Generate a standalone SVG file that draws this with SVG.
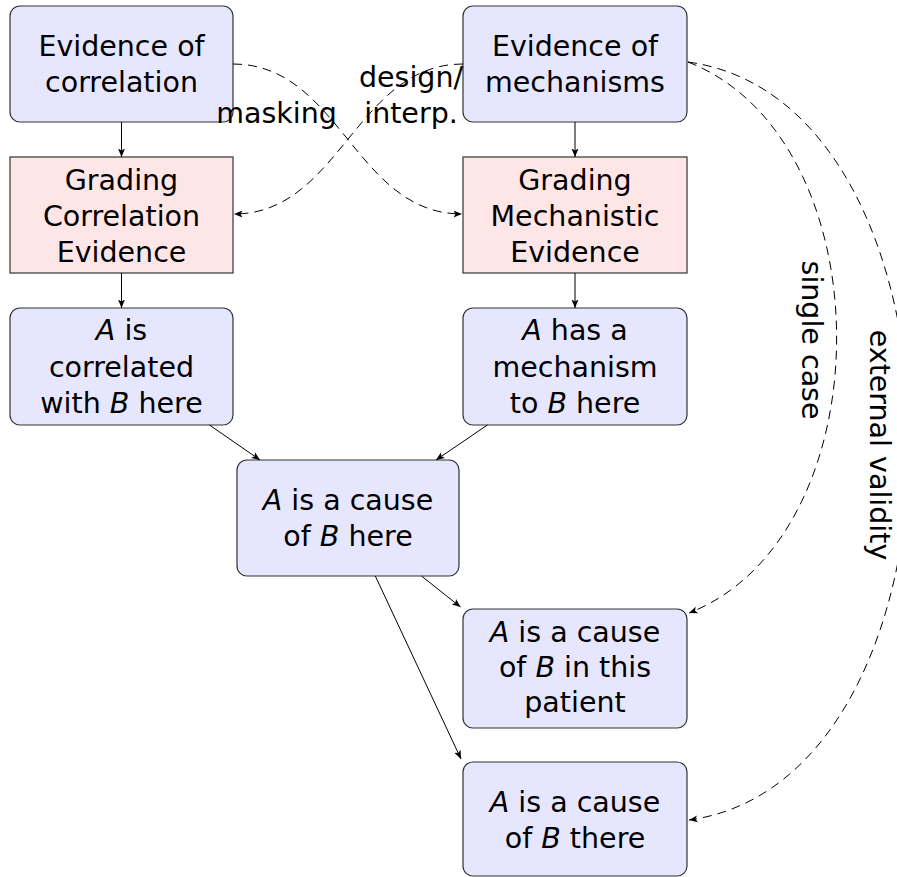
<svg xmlns="http://www.w3.org/2000/svg" width="897" height="877" viewBox="0 0 897 877">
<style>
  .b { fill: #e6e6ff; stroke: #333; stroke-width: 1.2; }
  .r { fill: #ffe6e6; stroke: #333; stroke-width: 1.2; }
  text { font-family: "DejaVu Sans", "Noto Sans", sans-serif; font-size: 28.5px; fill: #000; text-anchor: middle; }
  .i { font-style: italic; }
  .s { fill: none; stroke: #000; stroke-width: 1; marker-end: url(#ah); }
  .d { fill: none; stroke: #000; stroke-width: 1; stroke-dasharray: 9 6; marker-end: url(#ah); }
</style>
<defs>
  <marker id="ah" markerWidth="10" markerHeight="8" refX="8.5" refY="4" orient="auto" markerUnits="userSpaceOnUse">
    <path d="M0,0.5 L8.5,4 L0,7.5 L2,4 Z" fill="#000"/>
  </marker>
</defs>
<rect width="897" height="877" fill="#fff"/>

<g id="ev-corr">
  <rect class="b" x="10" y="6" width="223" height="116" rx="10"/>
  <text x="121.5" y="56">Evidence of</text>
  <text x="121.5" y="92">correlation</text>
</g>
<g id="grad-corr">
  <rect class="r" x="10" y="157" width="223" height="116"/>
  <text x="121.5" y="190">Grading</text>
  <text x="121.5" y="226">Correlation</text>
  <text x="121.5" y="262">Evidence</text>
</g>
<g id="corr-here">
  <rect class="b" x="10" y="308" width="223" height="117" rx="10"/>
  <text x="121.5" y="340"><tspan class="i">A</tspan> is</text>
  <text x="121.5" y="376.5">correlated</text>
  <text x="121.5" y="413">with <tspan class="i">B</tspan> here</text>
</g>
<g id="ev-mech">
  <rect class="b" x="463" y="6" width="224" height="116" rx="10"/>
  <text x="575" y="56">Evidence of</text>
  <text x="575" y="92">mechanisms</text>
</g>
<g id="grad-mech">
  <rect class="r" x="463" y="157" width="224" height="116"/>
  <text x="575" y="190">Grading</text>
  <text x="575" y="226">Mechanistic</text>
  <text x="575" y="262">Evidence</text>
</g>
<g id="mech-here">
  <rect class="b" x="463" y="308" width="224" height="117" rx="10"/>
  <text x="575" y="340"><tspan class="i">A</tspan> has a</text>
  <text x="575" y="376.5">mechanism</text>
  <text x="575" y="413">to <tspan class="i">B</tspan> here</text>
</g>
<g id="cause-here">
  <rect class="b" x="237" y="460" width="222" height="116" rx="10"/>
  <text x="348" y="510"><tspan class="i">A</tspan> is a cause</text>
  <text x="348" y="546">of <tspan class="i">B</tspan> here</text>
</g>
<g id="cause-patient">
  <rect class="b" x="463" y="609" width="224" height="119" rx="10"/>
  <text x="575" y="642"><tspan class="i">A</tspan> is a cause</text>
  <text x="575" y="677">of <tspan class="i">B</tspan> in this</text>
  <text x="575" y="712">patient</text>
</g>
<g id="cause-there">
  <rect class="b" x="463" y="762" width="224" height="114" rx="10"/>
  <text x="575" y="812"><tspan class="i">A</tspan> is a cause</text>
  <text x="575" y="848">of <tspan class="i">B</tspan> there</text>
</g>

<g id="connectors">
  <line class="s" x1="121.5" y1="122" x2="121.5" y2="157"/>
  <line class="s" x1="121.5" y1="273" x2="121.5" y2="308"/>
  <line class="s" x1="575" y1="122" x2="575" y2="157"/>
  <line class="s" x1="575" y1="273" x2="575" y2="308"/>
  <line class="s" x1="209.5" y1="425" x2="260" y2="460"/>
  <line class="s" x1="487.4" y1="425" x2="436" y2="460"/>
  <line class="s" x1="421.5" y1="576" x2="460.5" y2="607"/>
  <line class="s" x1="375.3" y1="576" x2="461" y2="759"/>
  <path class="d" d="M233,64 C340,64 355,214 462,214"/>
  <path class="d" d="M463,64 C356,64 340,214 234,214"/>
  <path class="d" d="M688,62 C886,139 886,536 689,613"/>
  <path class="d" d="M688,62 C983,102 983,780 689,820"/>
  <text x="411" y="87">design/</text>
  <text x="411" y="123">interp.</text>
  <text x="276.5" y="123">masking</text>
  <text transform="translate(802,340) rotate(90)">single case</text>
  <text transform="translate(870,445) rotate(90)">external validity</text>
</g>
</svg>
